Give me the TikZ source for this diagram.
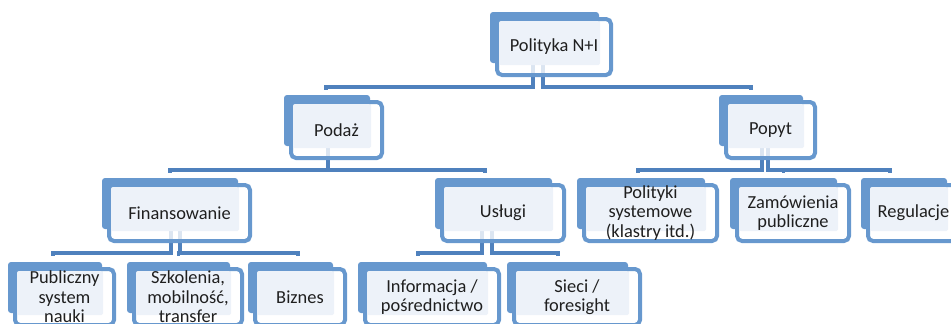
\documentclass[tikz,border=0pt]{standalone}
\usepackage{fontspec}
\setmainfont{Carlito}
\usetikzlibrary{calc, backgrounds}

\definecolor{boxblue}{RGB}{103,152,206}
\definecolor{linkblue}{RGB}{79,129,189}
\definecolor{paperblue}{RGB}{237,242,249}

\tikzset{
	boxframe/.style = {draw = boxblue, line width = 4pt, fill = white, fill opacity = 0.8, rounded corners = 5pt},
	boxfill/.style = {fill = boxblue, rounded corners = 3pt},
	boxpaper/.style = {fill = paperblue, rounded corners = 2pt},
	boxtext/.style = {align = center, inner sep = 0pt, text = black!88, font = \fontsize{18.4}{19.5}\selectfont},
	branch/.style = {draw = linkblue, line width = 3.6pt}
}

% one box of the tree: name, top left corner, bottom right corner, text
\newcommand{\orgbox}[6]{%
	\coordinate (#1 tl) at (#2,#3);
	\coordinate (#1 br) at (#4,#5);
	\coordinate (#1 top) at ({(#2+#4)/2},#3);
	\coordinate (#1 bot) at ({(#2+#4)/2},#5);
	\draw [boxframe] ($ (#1 tl) + (7,7) $) rectangle ($ (#1 br) + (12,12) $);
	\fill [boxfill] (#1 tl) rectangle (#1 br);
	\fill [boxpaper] ($ (#1 tl) + (9,9) $) rectangle ($ (#1 br) + (1,2) $);
	\node [boxtext] (#1) at ($ (#1 tl)!0.5!(#1 br) + (9.5,9.5) $) {#6};
}

\begin{document}
\begin{tikzpicture}[x = 1pt, y = -1pt]
	\path [use as bounding box, clip] (0,0) rectangle (951,324);
	
	% top
	\orgbox{pol}{490}{12}{599}{63}{Polityka N+I}
	
	% second row
	\orgbox{podaz}{284}{95}{370}{146}{Podaż}
	\orgbox{popyt}{719}{95}{803}{146}{Popyt}
	
	% third row
	\orgbox{fin}{102}{178}{238}{229}{Finansowanie}
	\orgbox{uslugi}{435}{178}{552}{229}{Usługi}
	\orgbox{polsys}{577}{178}{705}{229}{Polityki\\systemowe\\(klastry itd.)}
	\orgbox{zam}{730}{178}{837}{229}{Zamówienia\\publiczne}
	\orgbox{reg}{861}{178}{947}{229}{Regulacje}
	
	% bottom row
	\orgbox{pub}{8}{262}{102}{313}{Publiczny\\system\\nauki}
	\orgbox{szk}{127}{262}{230}{313}{Szkolenia,\\mobilność,\\transfer}
	\orgbox{biz}{248}{262}{333}{313}{Biznes}
	\orgbox{inf}{358}{262}{487}{313}{Informacja /\\pośrednictwo}
	\orgbox{sieci}{507}{262}{628}{313}{Sieci /\\foresight}
	
	% connectors behind the boxes
	\begin{scope}[on background layer]
		\draw [branch] ($ (pol bot) + (-11.5,0) $) |- ($ (podaz top) + (-1,-8) $) -- ++(0,3);
		\draw [branch] ($ (pol bot) + (-1.5,0) $) |- ($ (popyt top) + (-10,-8) $) -- ++(0,3);
		
		\draw [branch] ($ (podaz bot) + (1,0) $) |- ($ (fin top) + (0,-8) $) -- ++(0,3);
		\draw [branch] ($ (podaz bot) + (1,0) $) |- ($ (uslugi top) + (-8.5,-8) $) -- ++(0,3);
		
		\draw [branch] ($ (popyt bot) + (1,0) $) |- ($ (polsys top) + (-3,-8) $) -- ++(0,3);
		\draw [branch] ($ (popyt bot) + (7,0) $) |- ($ (zam top) + (0,-8) $) -- ++(0,3);
		\draw [branch] ($ (popyt bot) + (7,0) $) |- ($ (reg top) + (-14,-8) $) -- ++(0,3);
		
		\draw [branch] ($ (fin bot) + (1,0) $) |- ($ (pub top) + (-2,-9) $) -- ++(0,3);
		\draw [branch] ($ (fin bot) + (10,0) $) |- ($ (szk top) + (0,-9) $) -- ++(0,3);
		\draw [branch] ($ (fin bot) + (10,0) $) |- ($ (biz top) + (7.5,-9) $) -- ++(0,3);
		
		\draw [branch] ($ (uslugi bot) + (-11.5,0) $) |- ($ (inf top) + (-4.5,-9) $) -- ++(0,3);
		\draw [branch] ($ (uslugi bot) + (-1.5,0) $) |- ($ (sieci top) + (-9.5,-9) $) -- ++(0,3);
	\end{scope}
\end{tikzpicture}
\end{document}
